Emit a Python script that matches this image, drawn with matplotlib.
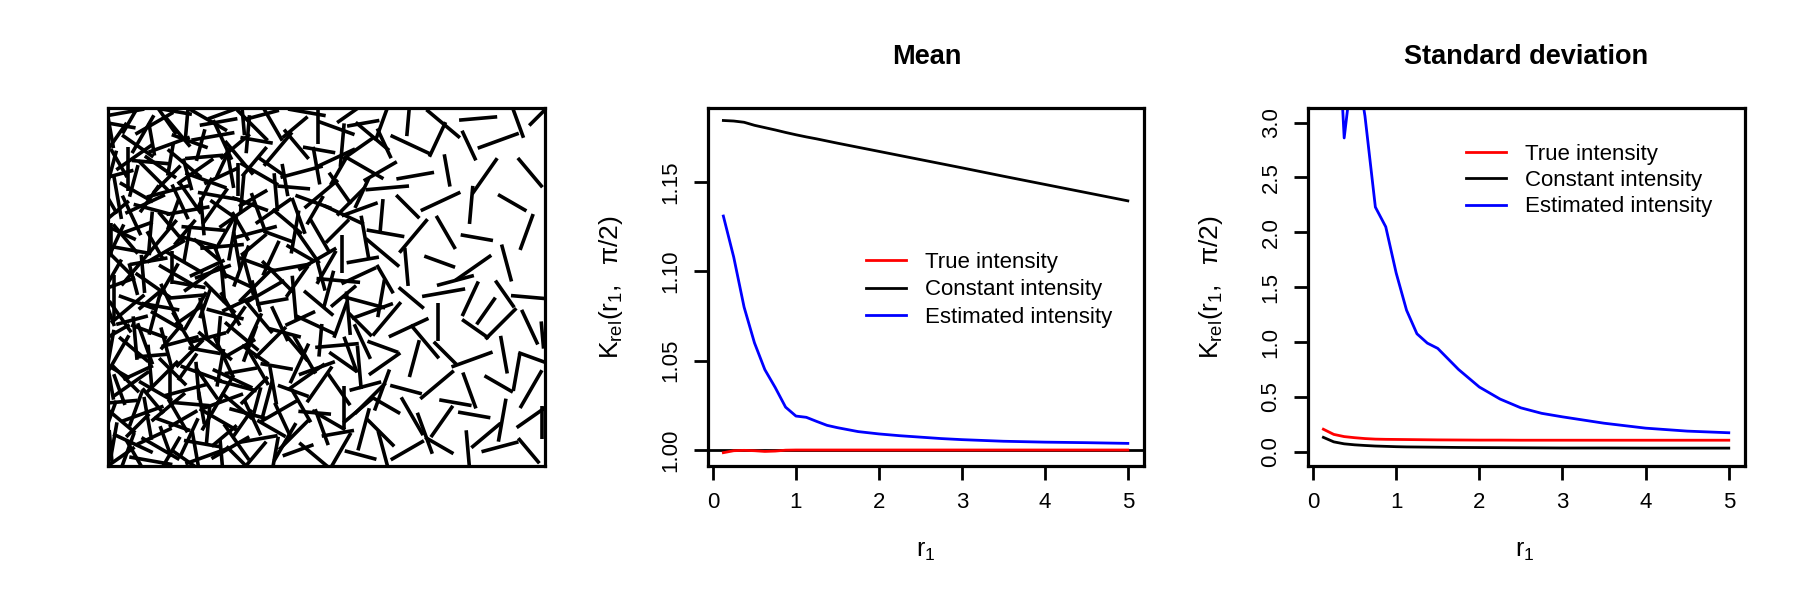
import matplotlib
matplotlib.use("Agg")
import matplotlib.pyplot as plt
from matplotlib.collections import LineCollection
import numpy as np

plt.rcParams['font.family'] = ['Liberation Sans', 'DejaVu Sans']
plt.rcParams['mathtext.fontset'] = 'custom'
plt.rcParams['mathtext.rm'] = 'Liberation Sans'
plt.rcParams['mathtext.it'] = 'Liberation Sans:italic'

# ---------------- data ----------------
r = [0.125, 0.25, 0.375, 0.5, 0.625, 0.75, 0.875, 1.0, 1.125, 1.25, 1.375,
     1.5, 1.75, 2.0, 2.25, 2.5, 2.75, 3.0, 3.5, 4.0, 4.5, 5.0]

mean_true = [0.9985, 0.9996, 0.9998, 0.9996, 0.9992, 0.9994, 0.9999, 1.0000, 1.0000, 1.0000, 1.0000,
             1.0000, 1.0000, 1.0000, 1.0000, 1.0000, 1.0000, 1.0000, 1.0000, 1.0000, 1.0000, 1.0000]
mean_const = [1.1845, 1.1842, 1.1835, 1.1818, 1.1805, 1.1792, 1.1778, 1.1765, 1.1753, 1.1742, 1.1730,
              1.1718, 1.1695, 1.1672, 1.1649, 1.1626, 1.1603, 1.1580, 1.1533, 1.1487, 1.1441, 1.1395]
mean_est = [1.1310, 1.1080, 1.0800, 1.0600, 1.0450, 1.0350, 1.0240, 1.0190, 1.0183, 1.0160, 1.0138,
            1.0125, 1.0103, 1.0090, 1.0080, 1.0072, 1.0064, 1.0058, 1.0049, 1.0044, 1.0041, 1.0037]

sd_true = [0.205, 0.158, 0.138, 0.128, 0.120, 0.115, 0.113, 0.112, 0.111, 0.110, 0.109,
           0.108, 0.107, 0.106, 0.106, 0.105, 0.105, 0.105, 0.105, 0.105, 0.105, 0.105]
sd_const = [0.131, 0.090, 0.072, 0.063, 0.057, 0.052, 0.049, 0.046, 0.044, 0.043, 0.042,
            0.041, 0.039, 0.038, 0.037, 0.036, 0.035, 0.034, 0.034, 0.033, 0.033, 0.033]
sd_est = [5.20, 4.70, 2.86, 3.66, 3.06, 2.23, 2.05, 1.63, 1.29, 1.075, 0.99,
          0.942, 0.75, 0.59, 0.48, 0.40, 0.35, 0.318, 0.26, 0.215, 0.188, 0.173]

series_labels = ["True intensity", "Constant intensity", "Estimated intensity"]
series_colors = ["red", "black", "blue"]

mean_yticks = [1.00, 1.05, 1.10, 1.15]
mean_yticklabels = ["1.00", "1.05", "1.10", "1.15"]
sd_yticks = [0.0, 0.5, 1.0, 1.5, 2.0, 2.5, 3.0]
sd_yticklabels = ["0.0", "0.5", "1.0", "1.5", "2.0", "2.5", "3.0"]
xticks = [0, 1, 2, 3, 4, 5]
xticklabels = ["0", "1", "2", "3", "4", "5"]

# segment pattern (window 0..100 x 0..82): centre x, centre y, angle (deg), length
segments = [
    # dense left part
    (2.5,1.8,35,7),(6.1,2.6,120,6),(9.8,1.2,170,8),(14.3,2.9,60,7),(17.6,1.5,145,6),(22.4,2.2,20,8),(25.9,3.1,95,5),(30.2,1.4,135,7),(33.8,2.7,50,6),
    (1.4,6.3,80,6),(5.7,5.2,155,8),(10.6,6.8,25,7),(13.2,5.6,110,6),(18.5,6.4,65,8),(21.7,5.1,170,7),(26.6,6.9,40,6),(29.4,5.5,125,8),(34.5,6.2,10,7),
    (2.9,10.4,140,7),(6.8,9.3,45,6),(9.1,10.9,100,8),(14.7,9.6,160,7),(17.2,10.8,30,6),(22.9,9.4,85,7),(25.3,10.6,150,8),(30.8,9.8,55,6),(33.1,11.0,115,7),
    (1.8,14.6,5,8),(6.4,13.2,70,7),(10.3,14.9,130,6),(13.8,13.5,40,8),(18.9,14.2,175,7),(21.4,13.3,100,6),(26.2,14.8,20,8),(29.7,13.6,140,7),(34.0,14.4,75,6),
    (2.6,17.5,110,6),(5.3,18.8,35,8),(10.9,17.2,150,7),(14.1,18.7,90,6),(17.8,17.4,15,8),(22.6,18.9,125,7),(26.9,17.6,60,6),(29.2,18.5,165,8),(33.5,17.3,45,7),
    (1.2,22.3,150,7),(6.9,21.4,25,6),(9.6,22.8,95,8),(14.8,21.6,135,7),(18.2,22.7,55,6),(21.3,21.2,160,8),(25.7,22.5,80,7),(30.4,21.8,10,6),(34.2,22.9,120,8),
    (2.3,25.6,60,8),(5.9,26.7,140,7),(10.2,25.3,5,6),(13.4,26.9,105,8),(18.7,25.8,45,7),(22.1,26.4,170,6),(26.4,25.2,115,8),(29.9,26.8,30,7),(33.7,25.5,145,6),
    (1.7,30.5,30,6),(6.2,29.3,95,8),(9.4,30.8,160,7),(14.5,29.6,50,6),(17.3,30.9,120,8),(22.8,29.4,15,7),(25.4,30.6,85,6),(30.6,29.7,140,8),(33.3,31.0,65,7),
    (2.8,34.2,125,7),(5.5,33.4,15,6),(10.7,34.9,75,8),(13.6,33.2,150,7),(18.4,34.5,35,6),(21.9,33.6,100,8),(26.8,34.8,165,7),(29.3,33.5,55,6),(34.4,34.3,130,8),
    (1.3,38.7,90,8),(6.6,37.5,160,7),(9.9,38.3,40,6),(14.2,37.2,115,8),(17.9,38.8,5,7),(22.3,37.4,70,6),(25.6,38.6,135,8),(30.1,37.3,25,7),(33.9,38.9,105,6),
    (2.1,41.6,20,7),(5.8,42.8,105,6),(10.4,41.3,145,8),(13.9,42.6,60,7),(18.6,41.5,170,6),(21.5,42.9,35,8),(26.3,41.7,95,7),(29.8,42.4,155,6),(33.6,41.2,45,8),
    (2.7,46.4,135,6),(6.3,45.2,50,8),(9.3,46.9,10,7),(14.6,45.5,90,6),(17.4,46.7,150,8),(22.7,45.3,25,7),(25.8,46.5,110,6),(30.5,45.8,70,8),(34.1,46.2,160,7),
    (1.5,50.8,65,8),(5.6,49.4,170,7),(10.8,50.5,120,6),(13.3,49.2,30,8),(18.1,50.9,80,7),(22.5,49.6,140,6),(26.1,50.3,5,8),(29.5,49.3,100,7),(33.4,50.7,40,6),
    (2.4,53.7,155,7),(6.7,54.6,20,6),(9.7,53.3,85,8),(14.4,54.8,130,7),(17.6,53.5,50,6),(21.8,54.4,175,8),(26.7,53.2,60,7),(30.3,54.9,120,6),(33.8,53.6,15,8),
    (1.9,58.3,40,6),(5.4,57.4,115,8),(10.1,58.8,165,7),(14.9,57.6,70,6),(18.3,58.5,10,8),(21.6,57.2,95,7),(26.5,58.7,145,6),(29.6,57.5,35,8),(34.3,58.4,110,7),
    (2.2,61.5,100,8),(6.5,62.7,150,7),(9.5,61.2,55,6),(13.7,62.9,15,8),(18.8,61.4,125,7),(22.2,62.6,65,6),(25.5,61.8,170,8),(30.7,62.3,85,7),(33.2,61.3,30,6),
    (1.6,66.6,15,7),(5.9,65.3,75,6),(10.5,66.4,135,8),(13.5,65.7,45,7),(18.2,66.8,105,6),(22.4,65.4,160,8),(26.0,66.5,25,7),(29.7,65.6,90,6),(34.6,66.9,150,8),
    (2.5,69.4,120,6),(6.0,70.7,35,8),(9.8,69.6,175,7),(14.3,70.2,80,6),(17.5,69.3,140,8),(22.0,70.8,5,7),(26.4,69.5,65,6),(30.0,70.6,130,8),(33.5,69.7,50,7),
    (1.4,74.5,55,8),(6.8,73.3,145,7),(10.0,74.8,100,6),(14.0,73.6,20,8),(18.7,74.4,160,7),(21.2,73.5,75,6),(26.2,74.7,115,8),(29.1,73.2,40,7),(34.0,74.6,170,6),
    (2.0,78.2,170,7),(5.2,79.4,60,6),(10.6,78.5,30,8),(13.1,79.6,125,7),(18.0,78.3,85,6),(22.9,79.3,150,8),(25.3,78.8,10,7),(30.9,79.5,95,6),(33.0,78.1,135,8),
    (0.6,4.5,95,6),(0.8,12.0,70,5),(0.5,19.5,100,7),(0.7,27.5,80,6),(0.4,35.0,110,5),(0.9,43.5,60,7),(0.6,52.0,90,6),(0.5,60.5,120,5),(0.8,68.0,75,7),
    (0.6,76.5,100,6),(4.0,81.0,10,7),(15.5,81.2,170,6),(27.0,81.0,20,7),
    (4.5,3.5,70,7),(12.0,4.0,150,8),(20.0,3.8,100,7),(28.0,4.2,30,8),(8.0,12.0,20,8),(16.0,11.5,120,7),(24.0,12.5,60,8),(32.0,12.0,165,7),
    (4.0,20.0,135,7),(12.5,20.5,45,8),(20.5,19.5,95,7),(28.5,20.0,155,8),(36.5,15.5,75,7),(8.5,28.0,110,8),(16.5,28.5,15,7),(24.5,27.5,140,8),
    (32.5,28.0,70,7),(4.5,36.0,40,8),(12.0,36.5,170,7),(20.0,35.5,60,8),(28.0,36.0,120,7),(36.0,40.0,30,8),(8.0,44.0,95,7),(16.0,43.5,150,8),
    (24.0,44.5,20,7),(32.0,44.0,105,8),(4.0,52.0,130,7),(12.5,52.5,50,8),(20.5,51.5,165,7),(28.5,52.0,80,8),(41.0,56.0,140,7),(8.5,60.0,25,8),
    (16.5,60.5,115,7),(24.5,59.5,55,8),(32.5,60.0,160,7),(4.5,68.0,90,8),(12.0,68.5,145,7),(20.0,67.5,35,8),(28.0,68.0,100,7),(8.0,76.0,60,8),
    (16.0,76.5,130,7),(24.0,75.5,10,8),(32.0,76.0,85,7),
    # middle part
    (38.2,2.4,80,7),(43.5,3.6,20,6),(47.6,2.1,140,8),(53.4,3.8,60,7),(57.8,2.5,165,6),(63.1,3.2,105,8),
    (37.4,8.6,150,6),(42.7,7.3,45,8),(48.9,8.9,110,7),(52.6,7.5,10,6),(58.5,8.4,75,8),(62.4,7.6,135,7),
    (39.0,12.5,30,8),(44.2,13.8,120,7),(47.3,12.2,175,6),(54.1,13.4,90,8),(57.2,12.7,40,7),(63.6,13.9,150,6),
    (37.8,18.4,100,7),(42.4,17.2,160,6),(48.4,18.7,55,8),(52.9,17.5,125,7),(58.9,18.3,15,6),(62.7,17.4,70,8),
    (38.6,22.8,170,6),(43.8,23.5,65,8),(47.8,22.4,20,7),(53.7,23.9,145,6),(57.5,22.6,95,8),(63.3,23.4,35,7),
    (37.2,28.3,45,8),(42.9,27.4,130,7),(48.6,28.8,85,6),(52.4,27.6,5,8),(58.2,28.5,115,7),(62.9,27.3,160,6),
    (39.3,32.6,115,7),(44.0,33.8,25,6),(47.5,32.3,155,8),(53.2,33.5,70,7),(57.7,32.4,135,6),(63.8,33.7,50,8),
    (37.6,37.7,10,6),(42.6,38.6,95,8),(48.2,37.3,140,7),(53.9,38.9,40,6),(58.6,37.5,165,8),(62.5,38.4,80,7),
    (38.8,43.4,135,8),(43.3,42.3,55,7),(48.7,43.8,105,6),(52.7,42.5,175,8),(57.4,43.6,25,7),(63.4,42.8,120,6),
    (37.3,47.6,65,7),(44.1,48.7,150,6),(47.9,47.4,30,8),(53.5,48.5,90,7),(58.3,47.2,10,6),(62.8,48.9,140,8),
    (39.1,52.5,160,6),(42.8,53.6,80,8),(48.5,52.7,120,7),(52.5,53.8,45,6),(58.8,52.4,100,8),(63.5,53.3,170,7),
    (37.9,58.4,35,8),(43.6,57.3,110,7),(47.4,58.6,60,6),(54.0,57.5,155,8),(57.6,58.8,20,7),(62.6,57.4,85,6),
    (38.4,62.7,95,7),(42.5,63.8,175,6),(48.8,62.3,40,8),(53.1,63.6,125,7),(58.1,62.5,65,6),(63.9,63.7,5,8),
    (37.5,68.5,145,6),(44.3,67.4,15,8),(47.7,68.8,100,7),(52.8,67.6,60,6),(58.7,68.3,150,8),(62.3,67.5,30,7),
    (38.9,72.6,50,8),(43.1,73.7,130,7),(48.3,72.4,170,6),(53.6,73.5,85,8),(57.3,72.8,35,7),(63.2,73.9,115,6),
    (37.7,78.3,120,7),(42.8,77.6,40,6),(48.1,78.7,90,8),(52.3,77.4,160,7),(58.4,78.5,10,6),(62.9,79.2,70,8),
    (40.5,5.5,60,8),(50.5,10.5,150,7),(45.5,20.5,35,8),(55.5,25.5,110,7),(40.5,30.5,165,6),(60.5,35.5,20,8),
    (50.5,40.5,75,7),(45.5,50.5,125,8),(55.5,60.5,45,7),(40.5,65.5,100,6),(60.5,75.5,140,8),(35.5,80.5,15,6),
    (45.5,81.0,170,7),(55.5,80.8,35,6),
    (45.0,25.5,120,8),(50.0,45.5,60,7),(42.0,45.5,10,7),(55.0,35.0,95,8),(47.0,60.5,160,7),(52.0,70.5,25,8),
    (40.0,10.5,115,7),(60.0,15.5,45,8),
    # sparse right part
    (68.5,3.6,30,7),(75.8,4.7,150,6),(82.4,3.2,95,8),(89.7,4.4,15,7),(96.3,3.5,130,6),
    (69.6,11.4,120,8),(76.4,10.2,55,7),(83.8,11.7,170,6),(90.2,10.5,80,8),(97.1,11.3,35,7),
    (68.2,17.5,165,6),(75.3,18.6,40,8),(82.7,17.3,110,7),(89.4,18.8,150,6),(96.8,17.6,60,8),
    (70.1,24.6,75,7),(77.2,25.8,135,6),(83.3,24.4,20,8),(90.6,25.5,100,7),(97.4,24.7,160,6),
    (68.8,31.7,25,8),(75.6,32.9,90,7),(84.1,31.4,145,6),(89.9,32.6,45,8),(96.5,31.8,115,7),
    (69.4,38.5,140,6),(76.8,39.7,10,8),(82.9,38.3,65,7),(90.8,39.4,125,6),(97.2,38.6,175,8),
    (68.3,45.6,95,7),(75.9,46.8,160,6),(83.6,45.4,35,8),(91.2,46.5,105,7),
    (69.9,52.7,50,8),(77.3,53.5,120,7),(84.4,52.3,170,6),(95.8,53.6,70,7),
    (68.6,59.4,135,6),(76.1,60.6,25,8),(83.1,59.8,85,7),(92.5,60.3,150,6),
    (70.3,66.5,10,7),(77.6,67.7,100,6),(86.2,66.4,55,8),(96.6,67.2,130,7),
    (69.2,73.6,155,8),(75.4,74.8,65,7),(82.6,73.4,115,6),(89.3,74.5,20,8),
    (68.7,79.3,85,6),(76.7,78.4,140,8),(84.7,79.6,5,7),(93.8,78.7,110,6),(98.6,80.2,45,5),
    (72.5,7.5,110,8),(86.5,7.0,40,7),(79.5,14.5,170,6),(93.5,21.5,80,7),(72.5,28.5,130,8),
    (86.5,35.5,55,6),(79.5,42.5,15,7),(99.3,10.0,90,6),(99.4,30.0,95,5),
]

# ---------------- figure ----------------
W, H = 1800, 600
fig = plt.figure(figsize=(18, 6), dpi=100)

def px_axes(x0, x1, y0, y1):
    return fig.add_axes([x0 / W, 1 - y1 / H, (x1 - x0) / W, (y1 - y0) / H])

FRAME_LW = 2.3
LINE_LW = 2.0
TICK_FS = 16
LEG_FS = 16
SEG_LW = 2.6
SEG_LEN_SCALE = 1.25

# left: segment pattern
ax0 = px_axes(108, 545, 108, 466)
seg_arr = np.array(segments, dtype=float)
cx, cy, ang, ln = seg_arr[:, 0], seg_arr[:, 1], np.deg2rad(seg_arr[:, 2]), seg_arr[:, 3] * SEG_LEN_SCALE
dx, dy = 0.5 * ln * np.cos(ang), 0.5 * ln * np.sin(ang)
lines = [[(a - b, c - d), (a + b, c + d)] for a, b, c, d in zip(cx, dx, cy, dy)]
ax0.add_collection(LineCollection(lines, colors='black', linewidths=SEG_LW, capstyle='butt'))
ax0.set_xlim(0, 100)
ax0.set_ylim(0, 82)
ax0.set_xticks([])
ax0.set_yticks([])
for s in ax0.spines.values():
    s.set_linewidth(FRAME_LW)

def style_axes(ax):
    for s in ax.spines.values():
        s.set_linewidth(FRAME_LW)
    ax.tick_params(axis='both', direction='out', length=10, width=2.0,
                   labelsize=TICK_FS, pad=9)
    ax.set_xticks(xticks)
    ax.set_xticklabels(xticklabels)

# middle: mean
ax1 = px_axes(708, 1144, 108, 466)
ax1.axhline(1.0, color='black', lw=LINE_LW, zorder=1)
for vals, lab, col in zip([mean_true, mean_const, mean_est], series_labels, series_colors):
    ax1.plot(r, vals, color=col, lw=LINE_LW, label=lab, zorder=3 if col == 'red' else 2)
ax1.set_xlim(-0.06, 5.195)
ax1.set_ylim(0.99104, 1.19149)
ax1.set_yticks(mean_yticks)
ax1.set_yticklabels(mean_yticklabels, rotation=90, va='center')
style_axes(ax1)
leg1 = ax1.legend(loc='upper left', bbox_to_anchor=(0.362, 0.597), frameon=False,
                  fontsize=LEG_FS, handlelength=1.8, handletextpad=0.85,
                  labelspacing=0.28, borderpad=0, borderaxespad=0)

# right: sd
ax2 = px_axes(1308, 1745, 108, 466)
for vals, lab, col in zip([sd_true, sd_const, sd_est], series_labels, series_colors):
    ax2.plot(r, vals, color=col, lw=LINE_LW, label=lab)
ax2.set_xlim(-0.06, 5.195)
ax2.set_ylim(-0.130, 3.133)
ax2.set_yticks(sd_yticks)
ax2.set_yticklabels(sd_yticklabels, rotation=90, va='center')
style_axes(ax2)
leg2 = ax2.legend(loc='upper left', bbox_to_anchor=(0.362, 0.900), frameon=False,
                  fontsize=LEG_FS, handlelength=1.8, handletextpad=0.85,
                  labelspacing=0.24, borderpad=0, borderaxespad=0)

# titles and axis labels
def ftext(x, y, s, **kw):
    fig.text(x / W, 1 - y / H, s, **kw)

ftext(927, 64, "Mean", ha='center', va='baseline', fontsize=19.5, fontweight='bold')
ftext(1526, 64, "Standard deviation", ha='center', va='baseline', fontsize=19.5, fontweight='bold')

ylab = r'$\mathrm{K_{rel}(r_1,\ \ π/2)}$'
ftext(611, 287, ylab, ha='center', va='center', rotation=90, fontsize=19)
ftext(1211, 287, ylab, ha='center', va='center', rotation=90, fontsize=19)
xlab = r'$\mathrm{r_1}$'
ftext(926, 551, xlab, ha='center', va='center', fontsize=18)
ftext(1525, 551, xlab, ha='center', va='center', fontsize=18)

fig.savefig("out.png", dpi=100)
